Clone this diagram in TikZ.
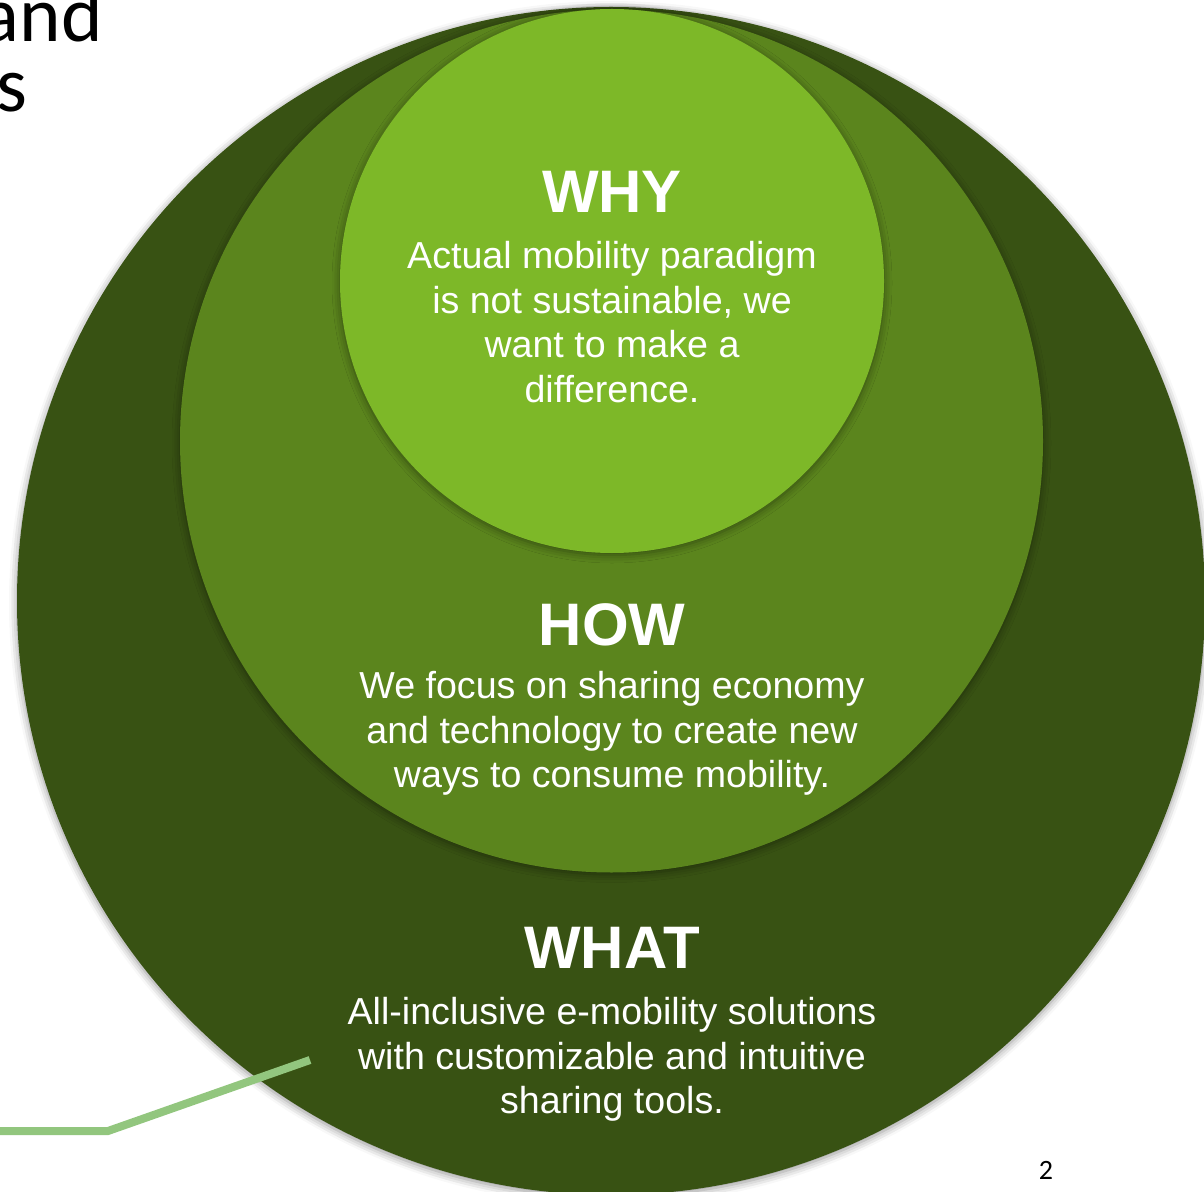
\documentclass[tikz,border=0pt]{standalone}
\usepackage{fontspec}
\setmainfont{Liberation Sans}
\newfontfamily\slidefont{Carlito}
\usetikzlibrary{shadows.blur}

\definecolor{whatgreen}{HTML}{385213}
\definecolor{howgreen}{HTML}{5B851D}
\definecolor{whygreen}{HTML}{7DB828}
\definecolor{leadgreen}{HTML}{92C67E}

\tikzset{
  ring/.style={circle, inner sep=0pt, outer sep=0pt,
    blur shadow={shadow xshift=0pt, shadow yshift=-1pt, shadow blur radius=4pt, shadow opacity=45}},
  headline/.style={anchor=base, text=white, font=\fontsize{30}{36}\selectfont\bfseries},
  bodytext/.style={anchor=north, text=white, align=center, inner sep=0pt,
    font=\fontsize{18.8}{22.3}\selectfont},
}

\begin{document}
\begin{tikzpicture}[x=0.5pt, y=-0.5pt]
    \useasboundingbox (0,0) rectangle (1204,1192);
    \clip (0,0) rectangle (1204,1192);
    % the three circles, outside in
    \node[ring, fill=whatgreen, minimum size=594pt] (what) at (611,601) {};
    \node[ring, fill=howgreen, minimum size=431.5pt] (how) at (611.5,441) {};
    \node[ring, fill=whygreen, minimum size=272pt] (why) at (612,281) {};
    % texts
    \node[headline] (whyhead) at (612,213) {WHY};
    \node[bodytext] (whybody) at (612,241) {Actual mobility paradigm\\is not sustainable, we\\want to make a\\difference.};
    \node[headline] (howhead) at (612,645) {HOW};
    \node[bodytext] (howbody) at (612,671) {We focus on sharing economy\\and technology to create new\\ways to consume mobility.};
    \node[headline] (whathead) at (612,968) {WHAT};
    \node[bodytext] (whatbody) at (612,997) {All-inclusive e-mobility solutions\\with customizable and intuitive\\sharing tools.};
    % lead line
    \coordinate (leadstart) at (0,1131);
    \coordinate (leadknee) at (108,1131);
    \coordinate (leadend) at (310,1060);
    \draw[leadgreen, line width=4pt] (leadstart) -- (leadknee) -- (leadend);
    % slide leftovers
    \node[anchor=base east, inner sep=0pt, font=\slidefont\fontsize{39.5}{47}\selectfont] (titleand) at (103,42) {and};
    \node[anchor=base east, inner sep=0pt, font=\slidefont\fontsize{39.5}{47}\selectfont] (titles) at (28,112) {s};
    \node[font=\slidefont\fontsize{14}{16}\selectfont] (pagenum) at (1046,1170) {2};
\end{tikzpicture}
\end{document}
